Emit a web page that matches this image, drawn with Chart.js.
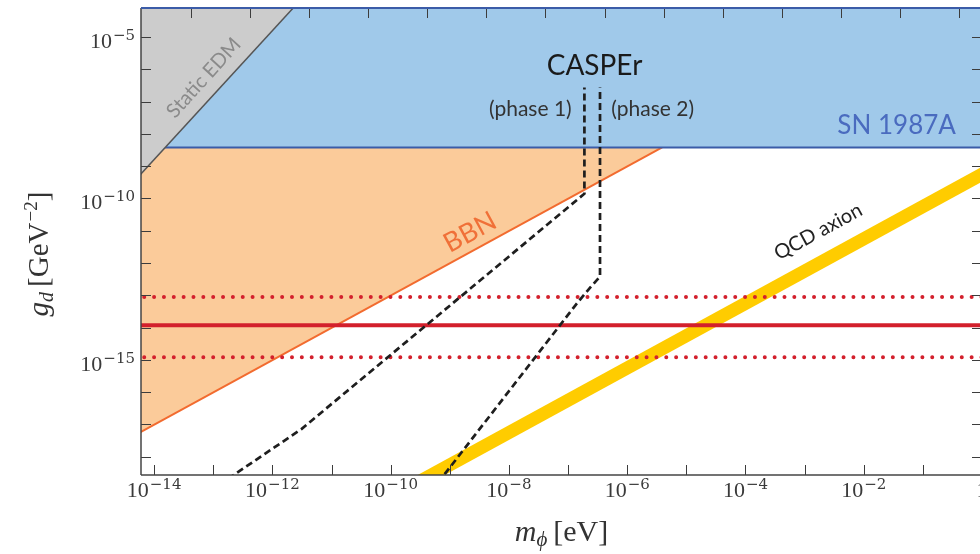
<!DOCTYPE html>
<html lang="en">
<head>
<meta charset="UTF-8" />
<title>Scalar dark matter coupling limits</title>
<script src="https://cdn.jsdelivr.net/npm/chart.js@4"></script>
<style>
  html, body { margin: 0; padding: 0; background: #fff; overflow: hidden; }
  canvas { display: block; }
</style>
</head>
<body>
<canvas id="limits" width="984" height="554"></canvas>
<script>
// axis ranges: mass in eV, coupling in GeV^-2
const massRange = [6.46e-15, 1];
const couplingRange = [2.72e-19, 7.9e-5];

// tick exponents and labels ('' = tick without label)
const massTickExp = [-14, -13, -12, -11, -10, -9, -8, -7, -6, -5, -4, -3, -2, -1, 0];
const massTickLabels = ['-14', '', '-12', '', '-10', '', '-8', '', '-6', '', '-4', '', '-2', '', '0'];
const couplingTickExp = [-18, -17, -16, -15, -14, -13, -12, -11, -10, -9, -8, -7, -6, -5];
const couplingTickLabels = ['', '', '', '-15', '', '', '', '', '-10', '', '', '', '', '-5'];
// top axis: frequency decades (Hz), eV per Hz
const freqTickExp = [1, 2, 3, 4, 5, 6, 7, 8, 9, 10, 11, 12, 13, 14];
const eVperHz = 4.1357e-15;

// excluded regions
const edmMass = [1e-15, 3.2e-12];
const edmCoupling = [1.6e-11, 1.6e-4];
const snMass = [1e-15, 10];
const snCoupling = [3.8e-9, 3.8e-9];
const bbnMass = [1e-15, 3.9e-6];
const bbnCoupling = [9.8e-19, 3.8e-9];

// QCD axion line
const qcdMass = [1e-10, 10];
const qcdCoupling = [5.6e-20, 5.6e-9];

// red horizontal lines
const nedmMass = [1e-15, 10];
const nedmCoupling = [1.18e-14, 1.18e-14];
const nedmUpper = [8.9e-14, 8.9e-14];
const nedmLower = [1.2e-15, 1.2e-15];

// CASPEr projections
const phase1Mass = [1.78e-13, 3.1e-12, 1.89e-7, 1.89e-7];
const phase1Coupling = [2.07e-19, 7.2e-18, 1.4e-10, 2.75e-7];
const phase2Mass = [6.3e-10, 1.35e-7, 2.42e-7, 3.47e-7, 3.47e-7];
const phase2Coupling = [1.55e-19, 5.07e-14, 1.82e-13, 3.8e-13, 2.75e-7];

// text labels in data coordinates
const labelText = ['Static EDM', 'CASPEr', '(phase 1)', '(phase 2)', 'SN 1987A', 'BBN', 'QCD axion'];
const labelMass = [6.9e-14, 2.8e-7, 2.3e-8, 2.7e-6, 3.6e-2, 2.2e-9, 1.7e-3];
const labelCoupling = [5.4e-7, 1.26e-6, 5.9e-8, 5.9e-8, 1.86e-8, 8.9e-12, 9.3e-12];

const pts = (xs, ys) => xs.map((x, i) => ({ x: x, y: ys[i] }));

const sans = '"Lato", "Open Sans", sans-serif';
const serif = '"Liberation Serif", "DejaVu Serif", serif';
const supFont = '15px "DejaVu Serif", serif';
const baseFont = '22px ' + serif;

function runsWidth(ctx, runs) {
  let w = 0;
  runs.forEach(r => { ctx.font = r.font; w += ctx.measureText(r.t).width + (r.gap || 0); });
  return w;
}
function drawRunsAt(ctx, runs, x0, y0) {
  let px = x0;
  runs.forEach(r => {
    ctx.font = r.font;
    px += r.gap || 0;
    ctx.fillText(r.t, px, y0 + (r.dy || 0));
    px += ctx.measureText(r.t).width;
  });
}
function powRuns(exp) {
  if (exp === '0') return [{ t: '1', font: baseFont }];
  return [{ t: '10', font: baseFont }, { t: exp.replace('-', '−'), font: supFont, dy: -8, gap: 1 }];
}

const decor = {
  id: 'decor',
  afterDatasetsDraw(chart) {
    const { ctx, chartArea: a, scales: { x, y } } = chart;
    ctx.save();
    ctx.strokeStyle = '#3c3c3c';
    ctx.lineWidth = 1;
    const seg = (x1, y1, x2, y2) => { ctx.beginPath(); ctx.moveTo(x1, y1); ctx.lineTo(x2, y2); ctx.stroke(); };
    massTickExp.forEach(e => {
      const p = Math.round(x.getPixelForValue(Math.pow(10, e))) + 0.5;
      seg(p, a.bottom, p, a.bottom - 10);
    });
    freqTickExp.forEach(e => {
      const p = Math.round(x.getPixelForValue(eVperHz * Math.pow(10, e))) + 0.5;
      seg(p, a.top, p, a.top + 10);
    });
    couplingTickExp.forEach(e => {
      const p = Math.round(y.getPixelForValue(Math.pow(10, e))) + 0.5;
      seg(a.left, p, a.left + 10, p);
      seg(a.right, p, a.right - 10, p);
    });
    // frame
    ctx.lineWidth = 1.5;
    ctx.strokeStyle = '#444';
    seg(a.left, a.top, a.left, a.bottom);
    seg(a.left, a.bottom, a.right, a.bottom);
    seg(a.right, a.top, a.right, a.bottom);
    ctx.strokeStyle = '#3b5ca8';
    ctx.lineWidth = 2;
    seg(a.left, a.top, a.right, a.top);

    // tick labels
    ctx.fillStyle = '#3a3a3a';
    ctx.textAlign = 'left';
    ctx.textBaseline = 'alphabetic';
    massTickExp.forEach((e, i) => {
      if (!massTickLabels[i]) return;
      const runs = powRuns(massTickLabels[i]);
      const w = runsWidth(ctx, runs);
      drawRunsAt(ctx, runs, x.getPixelForValue(Math.pow(10, e)) - w / 2, a.bottom + 22);
    });
    couplingTickExp.forEach((e, i) => {
      if (!couplingTickLabels[i]) return;
      const runs = powRuns(couplingTickLabels[i]);
      const w = runsWidth(ctx, runs);
      drawRunsAt(ctx, runs, a.left - 6 - w, y.getPixelForValue(Math.pow(10, e)) + 11);
    });

    // annotations
    const styles = [
      { font: '20px ' + sans, color: '#8a8a8a', angle: -47.7 },
      { font: '28px ' + sans, color: '#1a1a1a', angle: 0 },
      { font: '21px ' + sans, color: '#333', angle: 0 },
      { font: '21px ' + sans, color: '#333', angle: 0 },
      { font: '26px ' + sans, color: '#4a6bbf', angle: 0 },
      { font: '27px ' + sans, color: '#f07038', angle: -28.6 },
      { font: '20px ' + sans, color: '#222', angle: -28.5 }
    ];
    ctx.textAlign = 'center';
    ctx.textBaseline = 'middle';
    labelText.forEach((t, i) => {
      const s = styles[i];
      ctx.save();
      ctx.translate(x.getPixelForValue(labelMass[i]), y.getPixelForValue(labelCoupling[i]));
      ctx.rotate(s.angle * Math.PI / 180);
      ctx.font = s.font;
      ctx.fillStyle = s.color;
      ctx.fillText(t, 0, 0);
      ctx.restore();
    });

    // axis titles
    ctx.fillStyle = '#333';
    ctx.textAlign = 'left';
    ctx.textBaseline = 'alphabetic';
    const xTitle = [
      { t: 'm', font: 'italic 30px ' + serif },
      { t: 'ϕ', font: 'italic 21px ' + serif, dy: 5 },
      { t: '[eV]', font: '30px ' + serif, gap: 6 }
    ];
    drawRunsAt(ctx, xTitle, (a.left + a.right) / 2 - runsWidth(ctx, xTitle) / 2, 541);
    const yTitle = [
      { t: 'g', font: 'italic 29px ' + serif },
      { t: 'd', font: 'italic 20px ' + serif, dy: 5 },
      { t: '[GeV', font: '29px ' + serif, gap: 5 },
      { t: '−2', font: '19px ' + serif, dy: -11, gap: 1 },
      { t: ']', font: '29px ' + serif }
    ];
    ctx.save();
    ctx.translate(48, 254);
    ctx.rotate(-Math.PI / 2);
    drawRunsAt(ctx, yTitle, -runsWidth(ctx, yTitle) / 2, 0);
    ctx.restore();
    ctx.restore();
  }
};

const lineBase = { showLine: true, pointRadius: 0, pointHoverRadius: 0, tension: 0 };

new Chart(document.getElementById('limits').getContext('2d'), {
  type: 'scatter',
  data: {
    datasets: [
      Object.assign({}, lineBase, { label: 'CASPEr phase 1', data: pts(phase1Mass, phase1Coupling),
        borderColor: '#1e1e1e', borderWidth: 2.7, borderDash: [7, 4], fill: false, order: 0 }),
      Object.assign({}, lineBase, { label: 'CASPEr phase 2', data: pts(phase2Mass, phase2Coupling),
        borderColor: '#1e1e1e', borderWidth: 2.7, borderDash: [7, 4], fill: false, order: 0 }),
      Object.assign({}, lineBase, { label: 'nEDM', data: pts(nedmMass, nedmCoupling),
        borderColor: '#d3202c', borderWidth: 4, fill: false, order: 1 }),
      Object.assign({}, lineBase, { label: 'nEDM upper', data: pts(nedmMass, nedmUpper),
        borderColor: '#d3202c', borderWidth: 4, borderDash: [0, 9.85], borderCapStyle: 'round', fill: false, order: 1 }),
      Object.assign({}, lineBase, { label: 'nEDM lower', data: pts(nedmMass, nedmLower),
        borderColor: '#d3202c', borderWidth: 4, borderDash: [0, 9.85], borderCapStyle: 'round', fill: false, order: 1 }),
      Object.assign({}, lineBase, { label: 'QCD axion', data: pts(qcdMass, qcdCoupling),
        borderColor: '#ffcc00', borderWidth: 13, fill: false, order: 2 }),
      Object.assign({}, lineBase, { label: 'Static EDM', data: pts(edmMass, edmCoupling),
        borderColor: '#555', borderWidth: 1.5, backgroundColor: '#cccccc', fill: 'end', order: 3 }),
      Object.assign({}, lineBase, { label: 'SN 1987A', data: pts(snMass, snCoupling),
        borderColor: '#3b5ca8', borderWidth: 2, backgroundColor: '#a0c9ea', fill: 'end', order: 4 }),
      Object.assign({}, lineBase, { label: 'BBN', data: pts(bbnMass, bbnCoupling),
        borderColor: '#f26b2f', borderWidth: 2, backgroundColor: '#fbcb9a', fill: 'end', order: 5 })
    ]
  },
  options: {
    responsive: false,
    animation: false,
    layout: { padding: { top: 8, right: 2, left: 141, bottom: 79 } },
    plugins: { legend: { display: false }, tooltip: { enabled: false } },
    scales: {
      x: { type: 'logarithmic', display: false, min: massRange[0], max: massRange[1] },
      y: { type: 'logarithmic', display: false, min: couplingRange[0], max: couplingRange[1] }
    }
  },
  plugins: [decor]
});
</script>
</body>
</html>
